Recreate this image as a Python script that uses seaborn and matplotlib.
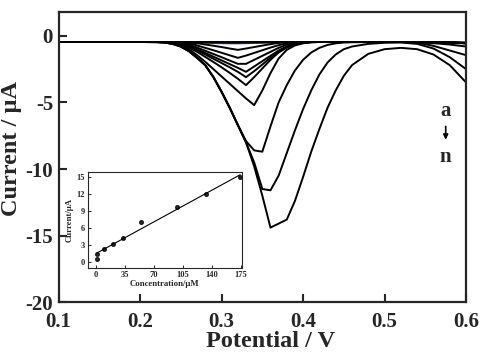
import numpy as np
import pandas as pd
import matplotlib
matplotlib.use("Agg")
import matplotlib.pyplot as plt
import seaborn as sns

# potential grid (V) shared by all voltammograms
potential = [0.10, 0.15, 0.20, 0.22, 0.23, 0.24, 0.25, 0.26, 0.27, 0.28, 0.29,
             0.30, 0.31, 0.32, 0.33, 0.34, 0.35, 0.36, 0.37, 0.38, 0.39, 0.40,
             0.41, 0.42, 0.43, 0.44, 0.45, 0.46, 0.48, 0.50, 0.52, 0.54, 0.56,
             0.58, 0.60]

# current (uA) for curves a..n
cur_a = [-0.46, -0.46, -0.46, -0.46, -0.46, -0.46, -0.46, -0.46, -0.46, -0.46, -0.46,
         -0.46, -0.46, -0.46, -0.46, -0.46, -0.46, -0.46, -0.46, -0.46, -0.46, -0.46,
         -0.46, -0.46, -0.46, -0.46, -0.46, -0.46, -0.46, -0.46, -0.46, -0.46, -0.46,
         -0.48, -0.50]
cur_b = [-0.46, -0.46, -0.46, -0.46, -0.46, -0.46, -0.46, -0.47, -0.48, -0.49, -0.50,
         -0.51, -0.52, -0.52, -0.51, -0.50, -0.49, -0.48, -0.47, -0.46, -0.46, -0.46,
         -0.46, -0.46, -0.46, -0.46, -0.46, -0.46, -0.46, -0.46, -0.46, -0.47, -0.49,
         -0.51, -0.53]
cur_c = [-0.46, -0.46, -0.46, -0.46, -0.46, -0.46, -0.47, -0.48, -0.50, -0.52, -0.54,
         -0.55, -0.56, -0.56, -0.55, -0.53, -0.51, -0.49, -0.47, -0.46, -0.46, -0.46,
         -0.46, -0.46, -0.46, -0.46, -0.46, -0.46, -0.46, -0.46, -0.46, -0.48, -0.50,
         -0.53, -0.56]
cur_d = [-0.46, -0.46, -0.46, -0.46, -0.46, -0.46, -0.46, -0.46, -0.47, -0.48, -0.49,
         -0.50, -0.51, -0.51, -0.50, -0.49, -0.48, -0.47, -0.46, -0.46, -0.46, -0.46,
         -0.46, -0.46, -0.46, -0.46, -0.46, -0.46, -0.46, -0.46, -0.46, -0.46, -0.47,
         -0.49, -0.52]
cur_e = [-0.46, -0.46, -0.46, -0.46, -0.46, -0.46, -0.46, -0.48, -0.55, -0.65, -0.74,
         -0.84, -0.95, -1.05, -0.95, -0.84, -0.73, -0.62, -0.53, -0.48, -0.46, -0.46,
         -0.46, -0.46, -0.46, -0.46, -0.46, -0.46, -0.46, -0.46, -0.46, -0.46, -0.47,
         -0.50, -0.55]
cur_f = [-0.46, -0.46, -0.46, -0.46, -0.46, -0.46, -0.48, -0.55, -0.72, -0.90, -1.08,
         -1.27, -1.46, -1.65, -1.48, -1.28, -1.08, -0.88, -0.70, -0.56, -0.48, -0.46,
         -0.46, -0.46, -0.46, -0.46, -0.46, -0.46, -0.46, -0.46, -0.46, -0.46, -0.47,
         -0.50, -0.55]
cur_g = [-0.46, -0.46, -0.46, -0.46, -0.46, -0.48, -0.53, -0.65, -0.88, -1.12, -1.36,
         -1.60, -1.85, -2.10, -2.10, -1.80, -1.50, -1.20, -0.90, -0.66, -0.52, -0.47,
         -0.46, -0.46, -0.46, -0.46, -0.46, -0.46, -0.46, -0.46, -0.46, -0.46, -0.47,
         -0.50, -0.55]
cur_h = [-0.46, -0.46, -0.46, -0.46, -0.46, -0.50, -0.58, -0.75, -1.00, -1.28, -1.56,
         -1.84, -2.12, -2.40, -2.70, -2.30, -1.90, -1.50, -1.10, -0.78, -0.58, -0.49,
         -0.46, -0.46, -0.46, -0.46, -0.46, -0.46, -0.46, -0.46, -0.46, -0.46, -0.47,
         -0.50, -0.55]
cur_i = [-0.46, -0.46, -0.46, -0.46, -0.46, -0.50, -0.60, -0.80, -1.08, -1.40, -1.72,
         -2.04, -2.36, -2.70, -3.10, -2.65, -2.15, -1.65, -1.20, -0.85, -0.62, -0.50,
         -0.46, -0.46, -0.46, -0.46, -0.46, -0.46, -0.46, -0.46, -0.46, -0.46, -0.47,
         -0.50, -0.55]
cur_j = [-0.46, -0.46, -0.46, -0.46, -0.46, -0.52, -0.63, -0.88, -1.20, -1.58, -1.96,
         -2.36, -2.78, -3.22, -3.70, -3.10, -2.45, -1.80, -1.25, -0.88, -0.64, -0.52,
         -0.47, -0.46, -0.46, -0.46, -0.46, -0.46, -0.46, -0.46, -0.46, -0.46, -0.47,
         -0.50, -0.55]
cur_k = [-0.46, -0.46, -0.46, -0.46, -0.48, -0.55, -0.70, -1.00, -1.45, -1.95, -2.50,
         -3.05, -3.60, -4.15, -4.70, -5.20, -4.10, -2.80, -1.70, -1.05, -0.72, -0.56,
         -0.49, -0.46, -0.46, -0.46, -0.46, -0.46, -0.46, -0.46, -0.46, -0.48, -0.55,
         -0.65, -0.80]
cur_l = [-0.46, -0.46, -0.46, -0.47, -0.50, -0.60, -0.80, -1.15, -1.65, -2.20, -3.10,
         -4.20, -5.40, -6.70, -7.90, -8.60, -8.70, -6.80, -5.00, -3.70, -2.60, -1.80,
         -1.25, -0.90, -0.68, -0.56, -0.50, -0.48, -0.46, -0.46, -0.46, -0.50, -0.75,
         -1.10, -1.45]
cur_m = [-0.46, -0.46, -0.46, -0.47, -0.50, -0.60, -0.80, -1.15, -1.65, -2.20, -3.10,
         -4.20, -5.40, -6.70, -8.00, -9.50, -11.50, -11.60, -10.50, -8.80, -7.10, -5.50,
         -4.10, -2.90, -2.00, -1.40, -1.00, -0.80, -0.60, -0.52, -0.50, -0.60, -0.95,
         -1.60, -2.50]
cur_n = [-0.46, -0.46, -0.46, -0.47, -0.50, -0.60, -0.80, -1.15, -1.65, -2.20, -3.10,
         -4.20, -5.40, -6.70, -8.00, -9.80, -12.00, -14.40, -14.10, -13.80, -12.40, -10.60,
         -8.70, -7.00, -5.40, -4.10, -3.00, -2.20, -1.35, -1.00, -0.90, -1.00, -1.40,
         -2.20, -3.50]

curve_names = list("abcdefghijklmn")
curve_colors = ["black", "#b03090", "#4a3aa8", "black", "black", "black", "black",
                "black", "black", "black", "black", "black", "black", "black"]

# inset: calibration plot
conc = [1, 1, 10, 20, 33, 54, 98, 133, 174]
peak_current = [0.55, 1.4, 2.3, 3.2, 4.2, 7.0, 9.8, 12.0, 15.0]

currents = [cur_a, cur_b, cur_c, cur_d, cur_e, cur_f, cur_g,
            cur_h, cur_i, cur_j, cur_k, cur_l, cur_m, cur_n]
frames = []
for name, cur in zip(curve_names, currents):
    frames.append(pd.DataFrame({"Potential": potential, "Current": cur, "curve": name}))
cv = pd.concat(frames, ignore_index=True)
cal = pd.DataFrame({"Concentration": conc, "Current": peak_current})

sns.set_style("ticks")
plt.rcParams["font.family"] = ["Liberation Serif", "DejaVu Serif"]
plt.rcParams["font.weight"] = "bold"

fig = plt.figure(figsize=(4.8, 3.61), dpi=100)
ax = fig.add_axes([0.122, 0.163, 0.849, 0.804])

# colored ones first so black curves sit on top
order = ["b", "c"] + [n for n in curve_names if n not in ("b", "c")]
sns.lineplot(data=cv, x="Potential", y="Current", hue="curve", hue_order=order,
             palette=dict(zip(curve_names, curve_colors)), estimator=None,
             sort=False, linewidth=1.4, legend=False, ax=ax)

ax.set_xlim(0.1, 0.6)
ax.set_ylim(-20, 1.8)
ax.set_xticks([0.1, 0.2, 0.3, 0.4, 0.5, 0.6])
ax.set_xticklabels(["0.1", "0.2", "0.3", "0.4", "0.5", "0.6"])
ax.set_yticks([0, -5, -10, -15, -20])
ax.set_yticklabels(["0", "-5", "-10", "-15", "-20"])
ax.tick_params(direction="in", length=6, width=1.5, labelsize=15, pad=4)
ax.tick_params(axis="x", pad=7)
for s in ax.spines.values():
    s.set_linewidth(1.6)
ax.set_xlabel("Potential / V", fontsize=17.5, fontweight="bold")
ax.set_ylabel("Current / µA", fontsize=17.5, fontweight="bold")
ax.xaxis.set_label_coords(0.521, -0.10)
ax.yaxis.set_label_coords(-0.09, 0.53)

ax.text(0.95, 0.66, "a", transform=ax.transAxes, ha="center", va="center",
        fontsize=15, fontweight="bold")
ax.text(0.95, 0.50, "n", transform=ax.transAxes, ha="center", va="center",
        fontsize=15, fontweight="bold")
ax.annotate("", xy=(0.95, 0.55), xytext=(0.95, 0.615), xycoords="axes fraction",
            arrowprops=dict(arrowstyle="-|>", color="black", lw=1.2, mutation_scale=7))

# inset
ins = fig.add_axes([0.183, 0.258, 0.321, 0.266])
sns.regplot(data=cal, x="Concentration", y="Current", ci=None, ax=ins, color="black",
            scatter_kws={"s": 7}, line_kws={"linewidth": 0.8})
ins.set_xlim(-10, 176)
ins.set_ylim(-1.1, 16)
ins.set_xticks([0, 35, 70, 105, 140, 175])
ins.set_yticks([0, 3, 6, 9, 12, 15])
ins.tick_params(direction="in", length=2.5, width=0.7, labelsize=6, pad=2)
for s in ins.spines.values():
    s.set_linewidth(0.8)
ins.set_xlabel("Concentration/µM", fontsize=6.3, fontweight="bold", labelpad=1)
ins.set_ylabel("Current/µA", fontsize=6.3, fontweight="bold", labelpad=2)

plt.savefig("out.png", dpi=100)
